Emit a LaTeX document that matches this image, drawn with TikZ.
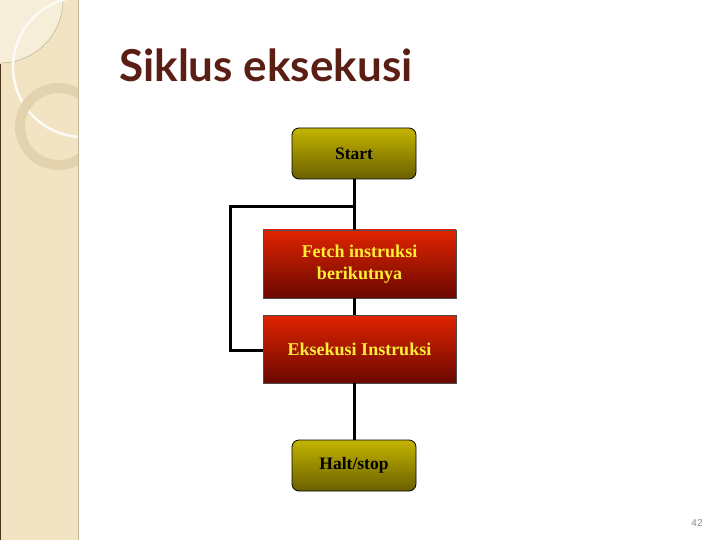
\documentclass[tikz,border=0pt]{standalone}
\usepackage{fontspec}
\setmainfont{Liberation Serif}
\newfontfamily\titlefont{Lato}
\newfontfamily\numfont{Liberation Sans}
\definecolor{strip}{HTML}{F2E3C2}
\definecolor{stripl}{HTML}{F7EEDA}
\definecolor{ringc}{HTML}{E2D3AE}
\definecolor{titlec}{HTML}{5A1E14}
\definecolor{olivetop}{HTML}{C4B400}
\definecolor{olivebot}{HTML}{6A6000}
\definecolor{redtop}{HTML}{E02400}
\definecolor{redbot}{HTML}{6A0800}
\definecolor{yeltext}{HTML}{FFEE33}
\tikzset{
  x=1pt, y=-1pt,
  olivebox/.style={draw=black, line width=0.8pt, rounded corners=7pt,
    top color=olivetop, bottom color=olivebot, minimum width=124pt,
    minimum height=51pt, font=\bfseries\fontsize{17.5}{20}\selectfont, text=black,
    inner sep=0pt},
  redbox/.style={draw=black!70, line width=0.6pt, top color=redtop,
    bottom color=redbot, minimum width=193pt, minimum height=68pt,
    font=\bfseries\fontsize{18}{22}\selectfont, text=yeltext, align=center,
    inner sep=0pt},
  conn/.style={line width=3pt, black},
}
\begin{document}
\begin{tikzpicture}
\useasboundingbox (0,0) rectangle (720,540);
\fill[white] (0,0) rectangle (720,540);
% left strip
\fill[strip] (0,0) rectangle (78,540);
\begin{scope}
  \clip (0,0) rectangle (78,540);
  \fill[stripl, draw=ringc!80!black, line width=0.4pt] (0,0) circle[radius=63];
  \draw[white!85!strip, line width=2.5pt] (83,67) circle[radius=70];
  \draw[ringc, line width=10pt] (58.5,126.5) circle[radius=38.5];
\end{scope}
\draw[black!60!brown, line width=1.2pt] (0.6,64) -- (0.6,540);
\draw[strip!80!black, line width=0.6pt] (78,0) -- (78,540);
% title
\node[anchor=base west, inner sep=0pt, text=titlec, font=\titlefont\bfseries\fontsize{44}{46}\selectfont] (title) at (119,82) {Siklus eksekusi};
% nodes
\node[olivebox] (start) at (354,153.5) {Start};
\node[redbox] (fetch) at (359.5,264) {Fetch instruksi\\berikutnya};
\node[redbox] (exec) at (359.5,349) {Eksekusi Instruksi};
\node[olivebox] (halt) at (354,465.5) {Halt/stop};
\coordinate (j) at (354,207);
\coordinate (c1) at (230,207);
\coordinate (c2) at (230,350);
% connectors
\draw[conn] (start.south -| j) -- (j |- fetch.north);
\draw[conn] (j) -- (c1) -- (c2) -- (exec.west |- c2);
\draw[conn] (j |- fetch.south) -- (j |- exec.north);
\draw[conn] (j |- exec.south) -- (j |- halt.north);
% page number
\node[text=black!45, font=\numfont\fontsize{10}{12}\selectfont] (pg) at (697,523) {42};
\end{tikzpicture}
\end{document}
